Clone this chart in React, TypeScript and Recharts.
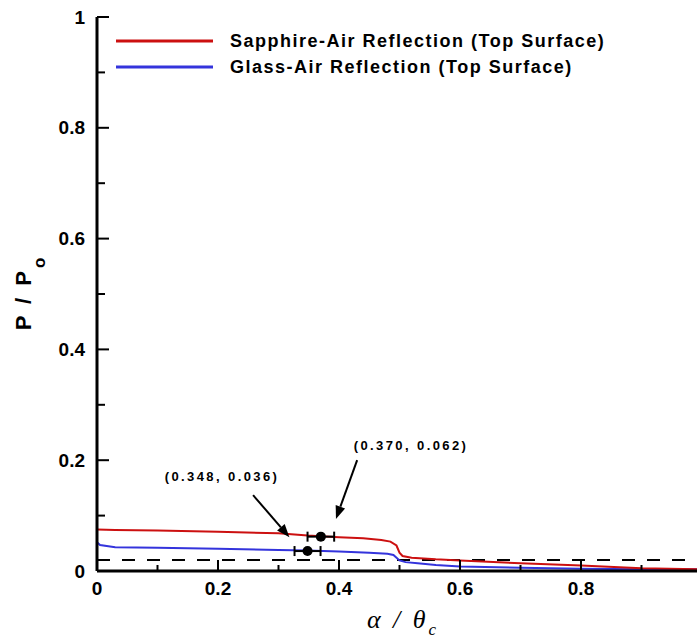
import React from 'react';
import {
  ComposedChart,
  Line,
  XAxis,
  YAxis,
  Scatter,
  ErrorBar,
  ReferenceLine,
  ReferenceDot,
  Legend,
} from 'recharts';

// ---- data ----
const seriesNames = ['Sapphire-Air Reflection (Top Surface)', 'Glass-Air Reflection (Top Surface)'];
const seriesColors = ['#cc1010', '#3434dc'];

const sapphireAlpha = [0, 0.03, 0.1, 0.2, 0.3, 0.348, 0.4, 0.44, 0.47, 0.485, 0.495, 0.5, 0.505, 0.52, 0.56, 0.6, 0.7, 0.8, 0.9, 1.0];
const sapphireP = [0.075, 0.074, 0.073, 0.071, 0.068, 0.064, 0.061, 0.059, 0.056, 0.053, 0.046, 0.033, 0.027, 0.024, 0.021, 0.019, 0.014, 0.01, 0.005, 0.003];

const glassAlpha = [0, 0.005, 0.03, 0.1, 0.2, 0.3, 0.348, 0.4, 0.45, 0.48, 0.49, 0.5, 0.51, 0.53, 0.56, 0.6, 0.7, 0.8, 0.9, 1.0];
const glassP = [0.052, 0.047, 0.043, 0.042, 0.04, 0.038, 0.037, 0.035, 0.033, 0.031, 0.029, 0.019, 0.016, 0.014, 0.011, 0.008, 0.006, 0.004, 0.003, 0.003];

const pointAlpha = [0.348, 0.37];
const pointP = [0.036, 0.062];
const pointErr = [0.0215, 0.022];
const pointLabels = ['(0.348, 0.036)', '(0.370, 0.062)'];
const labelAlpha = [0.2066, 0.519];
const labelP = [0.17, 0.2274];
const arrowFromAlpha = [0.258, 0.43];
const arrowFromP = [0.137, 0.2];
const arrowToAlpha = [0.318, 0.395];
const arrowToP = [0.061, 0.094];

const refLevel = 0.02;

const axisTicks = [0, 0.1, 0.2, 0.3, 0.4, 0.5, 0.6, 0.7, 0.8, 0.9, 1];
const majorTicks = [0, 0.2, 0.4, 0.6, 0.8, 1];
const yMajorLabels = ['0', '0.2', '0.4', '0.6', '0.8', '1'];
// the "1" of the x axis lies outside the visible picture
const xMajorLabels = ['0', '0.2', '0.4', '0.6', '0.8', ''];

// ---- derived tables ----
const sapphireData = sapphireAlpha.map((a, i) => ({ alpha: a, p: sapphireP[i] }));
const glassData = glassAlpha.map((a, i) => ({ alpha: a, p: glassP[i] }));
const pointData = pointAlpha.map((a, i) => ({ alpha: a, p: pointP[i], err: pointErr[i] }));

const FONT = '"Liberation Sans", Arial, sans-serif';

const majorIndex = (v: number) => majorTicks.findIndex((m) => Math.abs(m - v) < 1e-6);

const XTick = (props: any) => {
  const { x, y, payload } = props;
  const mi = majorIndex(payload.value);
  const major = mi >= 0;
  return (
    <g>
      <line x1={x} x2={x} y1={y} y2={y - (major ? 11 : 6)} stroke="#000" strokeWidth={2} />
      {major && xMajorLabels[mi] !== '' && (
        <text x={x} y={y + 24} textAnchor="middle" fontFamily={FONT} fontWeight="bold" fontSize={19} fill="#000">
          {xMajorLabels[mi]}
        </text>
      )}
    </g>
  );
};

const YTick = (props: any) => {
  const { x, y, payload } = props;
  const mi = majorIndex(payload.value);
  const major = mi >= 0;
  return (
    <g>
      <line x1={x} x2={x + (major ? 12 : 8)} y1={y} y2={y} stroke="#000" strokeWidth={2} />
      {major && (
        <text x={x - 12} y={y} dy="0.35em" textAnchor="end" fontFamily={FONT} fontWeight="bold" fontSize={19} fill="#000">
          {yMajorLabels[mi]}
        </text>
      )}
    </g>
  );
};

const YTitle = (props: any) => {
  const vb = props.viewBox;
  const cx = 31;
  const cy = vb.y + vb.height / 2;
  return (
    <text
      x={cx}
      y={cy}
      transform={`rotate(-90 ${cx} ${cy})`}
      textAnchor="middle"
      fontFamily={FONT}
      fontWeight="bold"
      fontSize={22}
      fill="#000"
    >
      <tspan letterSpacing={3}>P / P</tspan>
      <tspan fontSize={17} dy={14}>o</tspan>
    </text>
  );
};

const XTitle = (props: any) => {
  const vb = props.viewBox;
  const cx = vb.x + vb.width / 2 + 2;
  const cy = vb.y + 57;
  return (
    <text x={cx} y={cy} textAnchor="middle" fontFamily='"Liberation Serif", "DejaVu Serif", serif' fontStyle="italic" fontSize={26} fill="#000">
      <tspan letterSpacing={3}>α / θ</tspan>
      <tspan fontSize={17} dy={7}>c</tspan>
    </text>
  );
};

const Arrow = (props: any) => {
  const { x1, y1, x2, y2 } = props;
  if ([x1, y1, x2, y2].some((v) => typeof v !== 'number' || isNaN(v))) return null;
  const ang = Math.atan2(y2 - y1, x2 - x1);
  const L = 13;
  const W = 5;
  const bx = x2 - L * Math.cos(ang);
  const by = y2 - L * Math.sin(ang);
  const pts = `${x2},${y2} ${bx + W * Math.sin(ang)},${by - W * Math.cos(ang)} ${bx - W * Math.sin(ang)},${by + W * Math.cos(ang)}`;
  return (
    <g>
      <line x1={x1} y1={y1} x2={bx} y2={by} stroke="#000" strokeWidth={2} />
      <polygon points={pts} fill="#000" />
    </g>
  );
};

const makeAnnot = (text: string) => (props: any) => {
  const vb = props.viewBox || {};
  const cx = (vb.x || 0) + (vb.width || 0) / 2;
  const cy = (vb.y || 0) + (vb.height || 0) / 2;
  return (
    <text x={cx} y={cy} dy="0.35em" textAnchor="middle" fontFamily={FONT} fontWeight="bold" fontSize={13} letterSpacing={2.4} fill="#000">
      {text}
    </text>
  );
};

const renderLegend = (props: any) => {
  const items = (props.payload || [])
    .filter((p: any) => seriesNames.includes(p.value))
    .sort((a: any, b: any) => seriesNames.indexOf(a.value) - seriesNames.indexOf(b.value));
  return (
    <div style={{ fontFamily: FONT, fontWeight: 'bold', fontSize: 18, color: '#000' }}>
      {items.map((p: any, i: number) => (
        <div key={i} style={{ display: 'flex', alignItems: 'center', height: 26, whiteSpace: 'nowrap' }}>
          <svg width={97} height={4} style={{ display: 'block' }}>
            <line x1={0} x2={97} y1={2} y2={2} stroke={p.color} strokeWidth={3} />
          </svg>
          <span style={{ marginLeft: 17, letterSpacing: 1.5 }}>{p.value}</span>
        </div>
      ))}
    </div>
  );
};

export default function App() {
  return (
    <div style={{ position: 'absolute', left: 0, top: 0, width: 697, height: 639, overflow: 'hidden', background: '#fff' }}>
      <ComposedChart width={720} height={639} margin={{ top: 17, right: 18, bottom: 38, left: 0 }}>
        <XAxis
          dataKey="alpha"
          type="number"
          domain={[0, 1]}
          ticks={axisTicks}
          interval={0}
          tickSize={0}
          tickMargin={0}
          tickLine={false}
          tick={<XTick />}
          height={30}
          axisLine={{ stroke: '#000', strokeWidth: 3 }}
          allowDataOverflow
          label={{ content: <XTitle /> } as any}
        />
        <YAxis
          dataKey="p"
          type="number"
          domain={[0, 1]}
          ticks={axisTicks}
          interval={0}
          tickSize={0}
          tickMargin={0}
          tickLine={false}
          tick={<YTick />}
          width={97}
          axisLine={{ stroke: '#000', strokeWidth: 3 }}
          allowDataOverflow
          label={{ content: <YTitle /> } as any}
        />
        <Legend
          layout="vertical"
          align="center"
          verticalAlign="middle"
          content={renderLegend}
          wrapperStyle={{ position: 'absolute', left: 116, top: 28, width: 560, height: 52 }}
        />
        <ReferenceLine y={refLevel} stroke="#000" strokeWidth={2} strokeDasharray="13 12" />
        <Line
          data={glassData}
          dataKey="p"
          name={seriesNames[1]}
          stroke={seriesColors[1]}
          strokeWidth={2}
          dot={false}
          type="linear"
          isAnimationActive={false}
        />
        <Line
          data={sapphireData}
          dataKey="p"
          name={seriesNames[0]}
          stroke={seriesColors[0]}
          strokeWidth={2}
          dot={false}
          type="linear"
          isAnimationActive={false}
        />
        <Scatter
          data={pointData}
          dataKey="p"
          legendType="none"
          isAnimationActive={false}
          shape={(p: any) => <circle cx={p.cx} cy={p.cy} r={5} fill="#000" />}
        >
          <ErrorBar dataKey="err" direction="x" width={5} stroke="#000" strokeWidth={2} isAnimationActive={false} />
        </Scatter>
        {arrowFromAlpha.map((a, i) => (
          <ReferenceLine
            key={'arrow' + i}
            segment={[
              { x: a, y: arrowFromP[i] },
              { x: arrowToAlpha[i], y: arrowToP[i] },
            ]}
            shape={<Arrow />}
          />
        ))}
        {pointLabels.map((t, i) => (
          <ReferenceDot
            key={'lbl' + i}
            x={labelAlpha[i]}
            y={labelP[i]}
            r={1}
            fill="none"
            stroke="none"
            label={{ content: makeAnnot(t) } as any}
          />
        ))}
      </ComposedChart>
    </div>
  );
}
